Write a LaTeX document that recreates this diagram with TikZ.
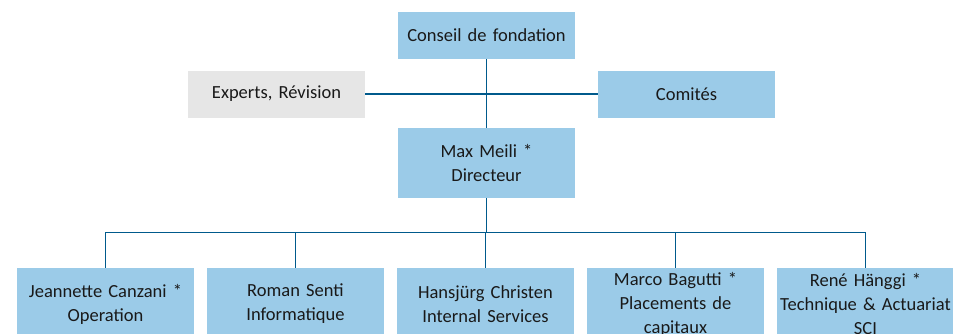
\documentclass[tikz,border=0pt]{standalone}
\usepackage{fontspec}
\setmainfont{Carlito}
\definecolor{boxblue}{RGB}{155,203,232}
\definecolor{boxgray}{RGB}{230,230,230}
\definecolor{linkblue}{RGB}{0,90,140}

\begin{document}
\begin{tikzpicture}[x=1pt,y=-1pt,
    unit/.style={fill=boxblue,inner sep=0pt,text width=177pt,align=center,
        minimum height=47pt,text=black!90,font=\fontsize{18.5}{24}\selectfont},
    tall/.style={unit,minimum height=72pt},
    link/.style={draw=linkblue,line width=1.4pt}]
    \clip (0,0) rectangle (953,333);

    \node[unit] (conseil) at (486.5,35.5) {Conseil de fondation};
    \node[unit,fill=boxgray] (experts) at (276.5,94) {Experts, Révision};
    \node[unit] (comites) at (686.5,94) {Comités};
    \node[tall,minimum height=70pt] (meili) at (486.5,163) {Max Meili *\\Directeur};

    \node[tall] (canzani) at (105.5,304) {Jeannette Canzani *\\Operation};
    \node[tall] (senti) at (295.5,304) {Roman Senti\\Informatique};
    \node[tall] (christen) at (485.5,304) {Hansjürg Christen\\Internal Services};
    \node[tall] (bagutti) at (675.5,304) {Marco Bagutti *\\Placements de\\capitaux};
    \node[tall] (haenggi) at (865.5,304) {René Hänggi *\\Technique \& Actuariat\\SCI};

    \draw[link] (conseil) -- (meili);
    \draw[link,line width=2pt] (experts) -- (comites);
    \draw[link] (meili.south) -- ++(0,34.5) coordinate (bus);
    \foreach \n in {canzani,senti,christen,bagutti,haenggi}
        \draw[link] (bus) -| (\n.north);
\end{tikzpicture}
\end{document}
